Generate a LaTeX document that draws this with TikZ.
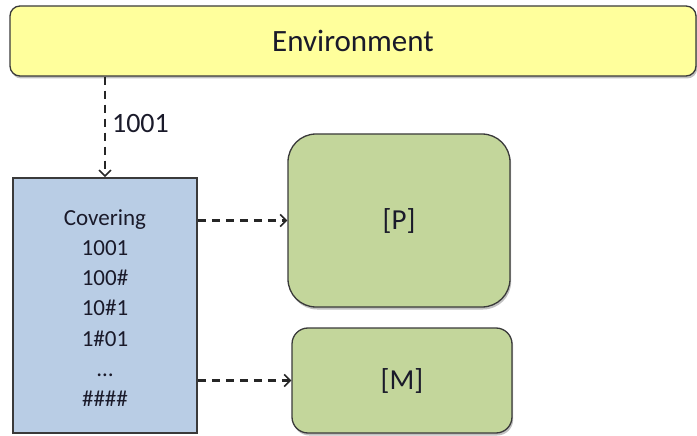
\documentclass[tikz,border=0pt]{standalone}
\usepackage{fontspec}
\setmainfont{Carlito}
\usetikzlibrary{arrows.meta,shadows}

\definecolor{envfill}{HTML}{FFFF9C}
\definecolor{covfill}{HTML}{B9CDE5}
\definecolor{actfill}{HTML}{C3D69B}
\definecolor{edge}{HTML}{3A3A3A}
\definecolor{ink}{HTML}{1A1A2A}

\tikzset{
  box/.style={draw=edge, line width=1.3pt, inner sep=0pt, text=ink},
  shade/.style={drop shadow={shadow xshift=1.2pt, shadow yshift=-2.5pt, opacity=0.35, fill=black!70}},
  flow/.style={draw=black!85, line width=2.2pt, dash pattern=on 8pt off 6pt,
    -{Straight Barb[length=6pt,width=12pt,line width=1.6pt]}},
}

\begin{document}
\begin{tikzpicture}[x=1pt,y=-1pt]
  \useasboundingbox (0,0) rectangle (697,436);

  % environment bar
  \node[box, shade, fill=envfill, rounded corners=10pt,
        minimum width=686pt, minimum height=70pt, font=\fontsize{31}{36}\selectfont]
        (env) at (353,41) {Environment};

  % covering table
  \node[box, fill=covfill, line width=1.6pt, minimum width=184pt, minimum height=255pt]
        (cov) at (105,305.5) {};
  \node[align=center, text=ink, font=\fontsize{23}{30.2}\selectfont, inner sep=0pt]
        (covtext) at (105,308) {Covering\\1001\\100\#\\10\#1\\1\#01\\\ldots\\\#\#\#\#};

  % action sets
  \node[box, shade, fill=actfill, rounded corners=28pt,
        minimum width=222pt, minimum height=173pt, font=\fontsize{29}{34}\selectfont]
        (P) at (399,220.5) {[P]};
  \node[box, shade, fill=actfill, rounded corners=16pt,
        minimum width=220pt, minimum height=105pt, font=\fontsize{29}{34}\selectfont]
        (M) at (402,380.5) {[M]};

  % connectors
  \draw[flow] (env.south -| cov.north) -- node[right, text=ink, inner sep=6pt,
        font=\fontsize{28}{32}\selectfont, pos=0.47] (lab) {1001} (cov.north);
  \draw[flow] (cov.east |- P.west) -- (P.west);
  \draw[flow] (cov.east |- M.west) -- (M.west);
\end{tikzpicture}
\end{document}
